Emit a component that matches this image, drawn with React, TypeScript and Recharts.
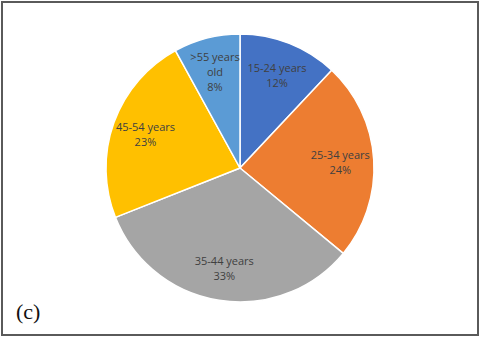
import React from 'react';
import { PieChart, Pie, Cell } from 'recharts';

const ageGroups = ['15-24 years', '25-34 years', '35-44 years', '45-54 years', '>55 years old'];
const shares = [12, 24, 33, 23, 8];
const sliceColors = ['#4472C4', '#ED7D31', '#A5A5A5', '#FFC000', '#5B9BD5'];

const RADIAN = Math.PI / 180;

const chartData = ageGroups.map((name, i) => ({ name, value: shares[i] }));

const renderLabel = (props: any) => {
  const { cx, cy, midAngle, outerRadius, index } = props;
  const r = outerRadius * 0.75;
  const x = cx + r * Math.cos(-midAngle * RADIAN);
  const y = cy + r * Math.sin(-midAngle * RADIAN);
  const name: string = ageGroups[index];
  // the smallest slice wraps its name onto two lines
  const lines = name === '>55 years old' ? ['>55 years', 'old'] : [name];
  lines.push(`${shares[index]}%`);
  const lh = 15;
  const top = y - ((lines.length - 1) * lh) / 2;
  return (
    <text
      x={x}
      y={top}
      fill="#404040"
      fontSize={11}
      fontFamily="'Open Sans', sans-serif"
      textAnchor="middle"
      dominantBaseline="central"
    >
      {lines.map((l, i) => (
        <tspan key={i} x={x} y={top + i * lh}>
          {l}
        </tspan>
      ))}
    </text>
  );
};

const App: React.FC = () => {
  return (
    <div style={{ position: 'absolute', left: 0, top: 0, width: 480, height: 338, background: '#fff' }}>
      <div
        style={{
          position: 'absolute',
          left: 1,
          top: 1,
          width: 478,
          height: 335,
          boxSizing: 'border-box',
          border: '2px solid #5a5a5a',
        }}
      />
      <PieChart
        width={480}
        height={338}
        margin={{ top: 0, right: 0, bottom: 0, left: 0 }}
        style={{ position: 'absolute', left: 0, top: 0 }}
      >
        <Pie
          data={chartData}
          dataKey="value"
          nameKey="name"
          cx={240}
          cy={168}
          outerRadius={134}
          startAngle={90}
          endAngle={-270}
          stroke="#ffffff"
          strokeWidth={1.5}
          label={renderLabel}
          labelLine={false}
          isAnimationActive={false}
        >
          {chartData.map((d, i) => (
            <Cell key={d.name} fill={sliceColors[i]} />
          ))}
        </Pie>
      </PieChart>
      <div
        style={{
          position: 'absolute',
          left: 16,
          top: 297,
          fontFamily: '"Liberation Serif", "DejaVu Serif", "Times New Roman", serif',
          fontSize: 22,
          lineHeight: '30px',
          color: '#111',
        }}
      >
        (c)
      </div>
    </div>
  );
};

export default App;
